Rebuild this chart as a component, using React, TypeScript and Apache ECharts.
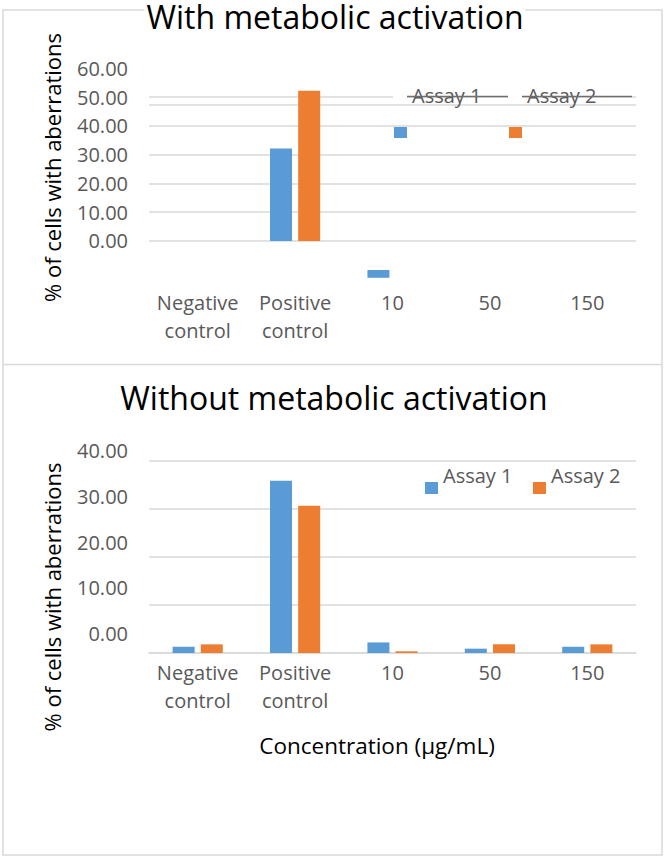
import React, { useEffect, useRef } from "react";
import * as echarts from "echarts";

const categories = ["Negative\ncontrol", "Positive\ncontrol", "10", "50", "150"];
// Top panel (with metabolic activation)
const topAssay1Offset = [null, null, -10.1, null, null];
const topAssay1 = [null, 32.2, -2.7, null, null];
const topAssay2 = [null, 52.3, null, null, null];
const topGridValues = [0, 10, 20, 30, 40, 47.3, 50];
const topTickLabels = [0, 10, 20, 30, 40, 50, 60];
// Bottom panel (without metabolic activation)
const botAssay1 = [1.3, 35.9, 2.2, 0.9, 1.3];
const botAssay2 = [1.8, 30.7, 0.35, 1.8, 1.8];

const BLUE = "#5B9BD5";
const ORANGE = "#ED7D31";
const GRID = "#D9D9D9";
const LABEL = "#595959";
const FONT = "Open Sans";

// legend icons: a small square drawn low inside a tall icon box, so that the text sits above it
const ICON_TOP = "path://M0,0L0,0M0,74L13,74L13,85L0,85Z";
const ICON_BOT = "path://M0,0L0,0M0,25L13,25L13,37L0,37Z";

export default function App() {
  const ref = useRef<HTMLDivElement>(null);
  useEffect(() => {
    document.body.style.margin = "0";
    const chart = echarts.init(ref.current!, null, { renderer: "svg" });
    const catAxisLabel = {
      interval: 0,
      color: LABEL,
      fontSize: 20,
      lineHeight: 28,
      fontFamily: FONT,
    };
    const legendItem = (left: number, top: number, name: string, icon: string, ih: number) => ({
      left,
      top,
      padding: 0,
      itemWidth: 13,
      itemHeight: ih,
      icon,
      selectedMode: false,
      data: [name],
      textStyle: { color: LABEL, fontSize: 20, fontFamily: FONT },
    });
    const yTitle = (y: number) => ({
      type: "text",
      x: 52,
      y,
      rotation: Math.PI / 2,
      style: {
        text: "% of cells with aberrations",
        fontSize: 22,
        fontFamily: FONT,
        fill: "#000",
        align: "center",
        verticalAlign: "middle",
      },
    });
    chart.setOption({
      animation: false,
      backgroundColor: "#fff",
      textStyle: { fontFamily: FONT },
      title: [
        {
          text: "With metabolic activation",
          left: 333,
          top: 0,
          textAlign: "center",
          padding: [0, 2],
          backgroundColor: "#fff",
          textStyle: { fontSize: 32, lineHeight: 32, fontWeight: "normal", color: "#000", fontFamily: FONT },
        },
        {
          text: "Without metabolic activation",
          left: 334,
          top: 381,
          textAlign: "center",
          padding: 0,
          textStyle: { fontSize: 32, lineHeight: 32, fontWeight: "normal", color: "#000", fontFamily: FONT },
        },
      ],
      legend: [
        legendItem(394, 53, "Assay 1", ICON_TOP, 85),
        legendItem(509, 53, "Assay 2", ICON_TOP, 85),
        legendItem(425, 457, "Assay 1", ICON_BOT, 37),
        legendItem(533, 457, "Assay 2", ICON_BOT, 37),
      ],
      grid: [
        { left: 149, width: 487, top: 68.5, height: 215.6 },
        { left: 149, width: 487, top: 461, height: 192 },
        { left: 149, width: 487, top: 450.7, height: 182.6 },
      ],
      xAxis: [
        {
          gridIndex: 0,
          type: "category",
          data: categories,
          axisLine: { show: false, onZero: false },
          axisTick: { show: false },
          axisLabel: { ...catAxisLabel, margin: 4 },
        },
        {
          gridIndex: 1,
          type: "category",
          data: categories,
          axisLine: { show: true, lineStyle: { color: GRID, width: 1.5 } },
          axisTick: { show: false },
          axisLabel: { ...catAxisLabel, margin: 5 },
        },
        { gridIndex: 2, type: "value", show: false, min: 0, max: 1 },
      ],
      yAxis: [
        {
          gridIndex: 0,
          type: "value",
          min: -15,
          max: 60,
          interval: 5,
          splitLine: { show: false },
          axisLine: { show: false },
          axisTick: { show: false },
          axisLabel: {
            margin: 21,
            color: LABEL,
            fontSize: 20,
            fontFamily: FONT,
            formatter: (v: number) => (topTickLabels.indexOf(v) >= 0 ? v.toFixed(2) : ""),
          },
        },
        {
          gridIndex: 1,
          type: "value",
          min: 0,
          max: 40,
          interval: 10,
          axisLabel: { show: false },
          axisLine: { show: false },
          axisTick: { show: false },
          splitLine: { show: true, lineStyle: { color: GRID, width: 1.5 } },
        },
        {
          gridIndex: 2,
          type: "value",
          min: 0,
          max: 40,
          interval: 10,
          splitLine: { show: false },
          axisLine: { show: false },
          axisTick: { show: false },
          axisLabel: {
            margin: 21,
            color: LABEL,
            fontSize: 20,
            fontFamily: FONT,
            formatter: (v: number) => v.toFixed(2),
          },
        },
      ],
      series: [
        {
          name: "offset",
          type: "bar",
          xAxisIndex: 0,
          yAxisIndex: 0,
          stack: "a1",
          data: topAssay1Offset,
          barWidth: 22,
          barGap: "28%",
          itemStyle: { color: "rgba(0,0,0,0)" },
          silent: true,
        },
        {
          name: "Assay 1",
          type: "bar",
          xAxisIndex: 0,
          yAxisIndex: 0,
          stack: "a1",
          data: topAssay1,
          barWidth: 22,
          barGap: "28%",
          itemStyle: { color: BLUE },
          markLine: {
            silent: true,
            symbol: "none",
            z: 1,
            label: { show: false },
            lineStyle: { color: GRID, width: 1.5, type: "solid" },
            data: topGridValues.map((v) => ({ yAxis: v })),
          },
        },
        {
          name: "Assay 2",
          type: "bar",
          xAxisIndex: 0,
          yAxisIndex: 0,
          data: topAssay2,
          barWidth: 22,
          barGap: "28%",
          itemStyle: { color: ORANGE },
        },
        {
          name: "Assay 1",
          type: "bar",
          xAxisIndex: 1,
          yAxisIndex: 1,
          data: botAssay1,
          barWidth: 22,
          barGap: "28%",
          itemStyle: { color: BLUE },
        },
        {
          name: "Assay 2",
          type: "bar",
          xAxisIndex: 1,
          yAxisIndex: 1,
          data: botAssay2,
          barWidth: 22,
          barGap: "28%",
          itemStyle: { color: ORANGE },
        },
      ],
      graphic: [
        {
          type: "rect",
          z: -10,
          shape: { x: 3, y: 10, width: 659, height: 845 },
          style: { fill: "none", stroke: GRID, lineWidth: 1.5 },
        },
        {
          type: "line",
          z: -10,
          shape: { x1: 3, y1: 364.5, x2: 662, y2: 364.5 },
          style: { stroke: GRID, lineWidth: 1.5 },
        },
        // gaps and strike-through over the top legend texts
        { type: "rect", z: 100, shape: { x: 393, y: 95, width: 14, height: 4 }, style: { fill: "#fff" } },
        { type: "rect", z: 100, shape: { x: 508, y: 95, width: 14, height: 4 }, style: { fill: "#fff" } },
        { type: "line", z: 100, shape: { x1: 407, y1: 96.5, x2: 508, y2: 96.5 }, style: { stroke: "#6f6f6f", lineWidth: 1.3 } },
        { type: "line", z: 100, shape: { x1: 522, y1: 96.5, x2: 632, y2: 96.5 }, style: { stroke: "#6f6f6f", lineWidth: 1.3 } },
        yTitle(167.5),
        yTitle(597),
        {
          type: "text",
          x: 377,
          y: 745,
          style: {
            text: "Concentration (µg/mL)",
            fontSize: 22.5,
            fontFamily: FONT,
            fill: "#000",
            align: "center",
            verticalAlign: "middle",
          },
        },
      ],
    });
    return () => chart.dispose();
  }, []);
  return <div ref={ref} style={{ width: 666, height: 859 }} />;
}
